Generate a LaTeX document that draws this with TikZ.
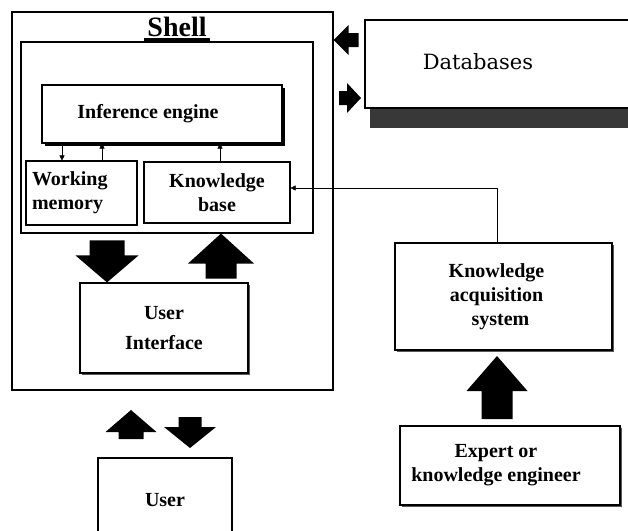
\documentclass[tikz,border=0pt]{standalone}
\usepackage{fontspec}
\setmainfont{Liberation Serif}
\newfontfamily\dbfont{DejaVu Serif}
\usetikzlibrary{arrows.meta,positioning,shadows}

\begin{document}
\begin{tikzpicture}[x=1pt, y=-1pt, >={Triangle[length=5pt, width=5pt]}, thin,
	box/.style = {draw, fill = white, line width = 1.1pt, inner sep = 0pt, font = \bfseries\fontsize{20}{24}\selectfont},
	lbl/.style = {font = \bfseries\fontsize{20}{24}\selectfont, align = center},
	thinshadow/.style = {general shadow = {fill = black!65, shadow xshift = 1.5pt, shadow yshift = -1.5pt}},
	ieshadow/.style = {general shadow = {fill = black, shadow xshift = 2.5pt, shadow yshift = -2.5pt}},
	pics/fatarrow/.style n args = {4}{code = {
		\fill (0,0) -- (#2,#4) -- (#1,#4) -- (#1,#3+#4) -- (-#1,#3+#4) -- (-#1,#4) -- (-#2,#4) -- cycle;
	}}]
	\clip (0,0) rectangle (628,530);

	% shell and its parts
	\node[box, minimum width = 321pt, minimum height = 378pt](shell) at (172.5,201){};
	\node[font = \bfseries\fontsize{28}{30}\selectfont, inner sep = 3pt](title) at (177,26.5){Shell};
	\draw[line width = 3pt](title.south west) -- (title.south east);
	\node[box, minimum width = 292pt, minimum height = 191pt](core) at (167,137.5){};
	\node[box, ieshadow, minimum width = 240pt, minimum height = 58pt](ie) at (162,114){};
	\node[lbl](ietext) at ([xshift = -14pt]ie.center){Inference engine};
	\node[box, text width = 99pt, inner xsep = 6pt, minimum height = 64pt, align = left](wm) at (81.5,193){Working\\memory};
	\node[box, minimum width = 146pt, minimum height = 61pt, align = center](kb) at (217,192.5){Knowledge\\base};
	\node[box, thinshadow, minimum width = 168pt, minimum height = 90pt, align = center](ui) at (164,328){User\\[6pt]Interface};

	% outside the shell
	\node[box, minimum width = 134pt, minimum height = 84pt](user) at (165,500){User};
	\fill[black!78](370,108) rectangle (640,128);
	\node[box, minimum width = 280pt, minimum height = 88pt](db) at (505,64){};
	\node[font = \dbfont\fontsize{21}{24}\selectfont](dbtext) at (478,62){Databases};
	\node[box, thinshadow, minimum width = 217pt, minimum height = 107pt](kas) at (503.5,296.5){};
	\node[lbl](kastext) at ([xshift = -7pt]kas.center){Knowledge\\acquisition\\\hspace*{8pt}system};
	\node[box, thinshadow, minimum width = 220pt, minimum height = 79pt](expert) at (510,465.5){};
	\node[lbl](experttext) at ([xshift = -14pt]expert.center){Expert or\\knowledge engineer};

	\draw[->](ie.south -| 62,0) -- (wm.north -| 62,0);
	\draw[->](wm.north -| 102,0) -- (ie.south -| 102,0);
	\draw[->](kb.north -| 220,0) -- (ie.south -| 220,0);
	\draw[->](kas.north -| 497,0) |- (kb.east |- 0,188);

	\pic[rotate = 180] at (ui.north -| 107,0){fatarrow = {17.5}{31.5}{15}{27}};
	\pic at (core.south -| 221,0){fatarrow = {15.5}{33}{15}{30}};
	\pic at (131,410){fatarrow = {12.5}{25.5}{7}{22}};
	\pic[rotate = 180] at (190,448){fatarrow = {11.5}{26}{10}{21}};
	\pic at (497,356){fatarrow = {15.5}{30.5}{28}{35}};
	\pic[rotate = 90] at (shell.east |- 0,40){fatarrow = {7}{15}{10}{15}};
	\pic[rotate = -90] at (361,98){fatarrow = {7}{15}{8}{14}};
\end{tikzpicture}
\end{document}
